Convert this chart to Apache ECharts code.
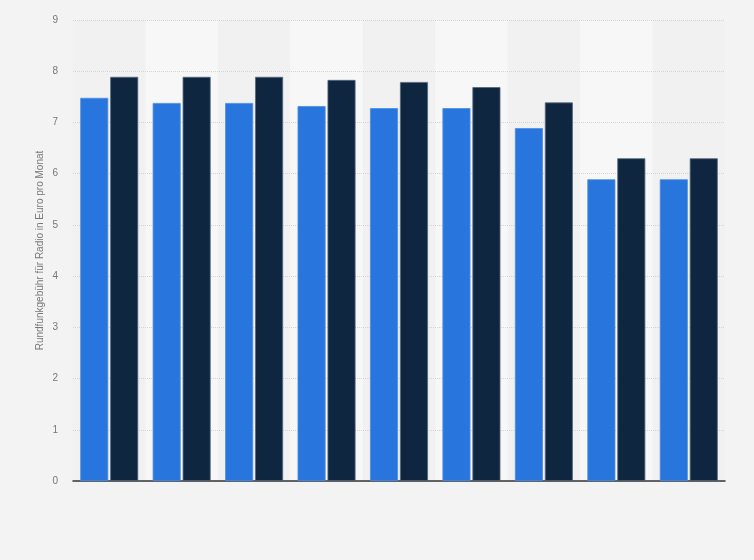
<!DOCTYPE html>
<html>
<head>
<meta charset="utf-8">
<script src="https://cdn.jsdelivr.net/npm/echarts@6/dist/echarts.min.js"></script>
<style>
  html, body { margin: 0; padding: 0; background: #f3f3f3; }
  #chart { width: 754px; height: 560px; }
</style>
</head>
<body>
<div id="chart"></div>
<script>
var categories = ['1', '2', '3', '4', '5', '6', '7', '8', '9'];
var seriesA = [7.48, 7.38, 7.38, 7.32, 7.28, 7.28, 6.89, 5.89, 5.89];
var seriesB = [7.89, 7.89, 7.89, 7.83, 7.79, 7.69, 7.39, 6.30, 6.30];
var yTicks = [0, 9, 1];

var colors = ['#2876dd', '#0f2640'];

var option = {
    backgroundColor: '#f3f3f3',
    animation: false,
    grid: { left: 73, right: 29, top: 20, bottom: 79 },
    xAxis: {
        type: 'category',
        data: categories,
        z: 0,
        axisLine: { lineStyle: { color: '#333', width: 1.5 } },
        axisTick: { show: false },
        axisLabel: { show: false },
        splitArea: {
            show: true,
            areaStyle: { color: ['#f1f1f1', '#f7f7f7'] }
        }
    },
    yAxis: {
        type: 'value',
        z: 1,
        min: yTicks[0],
        max: yTicks[1],
        interval: yTicks[2],
        name: 'Rundfunkgebühr für Radio in Euro pro Monat',
        nameLocation: 'middle',
        nameGap: 28,
        nameMoveOverlap: false,
        nameTextStyle: { color: '#777', fontSize: 10, fontFamily: 'Liberation Sans' },
        axisLine: { show: false },
        axisTick: { show: false },
        axisLabel: { color: '#777', fontSize: 10, margin: 15, fontFamily: 'Liberation Sans' },
        splitLine: { showMinLine: false, lineStyle: { color: '#d4d4d4', width: 1, type: [1, 1] } }
    },
    series: [
        {
            type: 'bar',
            data: seriesA,
            barWidth: 28,
            barGap: '7%',
            itemStyle: { color: colors[0], borderColor: '#4a8de3', borderWidth: 0.8 }
        },
        {
            type: 'bar',
            data: seriesB,
            barWidth: 28,
            barGap: '7%',
            itemStyle: { color: colors[1], borderColor: '#56667a', borderWidth: 0.8 }
        }
    ]
};

var chart = echarts.init(document.getElementById('chart'));
chart.setOption(option);
</script>
</body>
</html>
